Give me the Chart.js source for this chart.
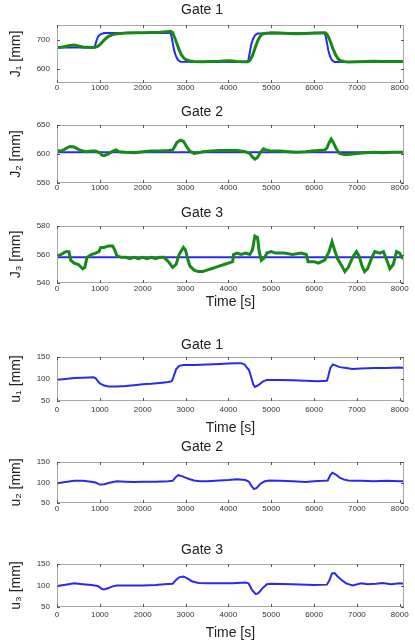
<!DOCTYPE html>
<html>
<head>
<meta charset="utf-8">
<script src="https://cdn.jsdelivr.net/npm/chart.js@4.4.1/dist/chart.umd.min.js"></script>
<style>
  body { margin: 0; background: #fff; }
  #wrap { position: relative; width: 415px; height: 643px; }
  canvas { position: absolute; left: 0; }
</style>
</head>
<body>
<div id="wrap"></div>
<script>
// time axis ticks
var xTicks = [0, 1000, 2000, 3000, 4000, 5000, 6000, 7000, 8000];

// Gate 1 level, reference (blue) and measured (green)
var j1RefT = [0, 880, 900, 930, 960, 1000, 1050, 1100, 2650, 2670, 2700, 2730, 2770, 2820, 2880, 4450, 4470, 4500, 4530, 4570, 4620, 4680, 6250, 6270, 6300, 6330, 6370, 6420, 6480, 8100];
var j1Ref = [672, 672, 685, 700, 710, 716, 720, 722, 722, 712, 690, 665, 645, 630, 623, 622, 632, 655, 680, 700, 714, 721, 722, 712, 690, 665, 643, 628, 622, 622];
var j1T = [0, 100, 200, 300, 400, 500, 600, 700, 800, 880, 950, 1000, 1050, 1100, 1150, 1200, 1300, 1400, 1500, 1600, 1800, 2000, 2200, 2400, 2550, 2650, 2700, 2750, 2800, 2850, 2900, 2950, 3000, 3100, 3200, 3400, 3600, 3800, 4000, 4100, 4200, 4400, 4450, 4500, 4550, 4600, 4650, 4700, 4750, 4800, 4900, 5000, 5200, 5400, 5600, 5800, 6000, 6200, 6260, 6300, 6350, 6400, 6450, 6500, 6550, 6600, 6700, 6800, 7000, 7200, 7400, 7600, 7800, 8000, 8100];
var j1 = [672, 673, 676, 679, 681, 678, 674, 673, 672, 673, 676, 682, 690, 698, 705, 711, 717, 720, 721, 722, 723, 723, 724, 725, 727, 728, 724, 705, 685, 665, 648, 638, 631, 626, 624, 623, 624, 625, 627, 626, 624, 623, 623, 628, 640, 660, 682, 700, 712, 719, 722, 723, 722, 721, 720, 721, 722, 723, 723, 718, 705, 685, 665, 648, 636, 628, 624, 622, 623, 624, 625, 624, 624, 624, 624];

// Gate 2 level
var j2RefT = [0, 8100];
var j2Ref = [603, 603];
var j2T = [0, 100, 200, 300, 400, 500, 600, 700, 800, 900, 1000, 1050, 1100, 1200, 1300, 1380, 1450, 1600, 1800, 2000, 2200, 2400, 2600, 2700, 2750, 2800, 2880, 2950, 3000, 3050, 3100, 3200, 3300, 3400, 3600, 3800, 4000, 4200, 4400, 4500, 4560, 4620, 4680, 4750, 4820, 4880, 5000, 5200, 5400, 5600, 5800, 5950, 6100, 6250, 6300, 6350, 6400, 6450, 6500, 6550, 6600, 6700, 6800, 6900, 7000, 7200, 7400, 7600, 7800, 8000, 8100];
var j2 = [606, 605, 609, 613, 612, 608, 605, 604, 605, 605, 602, 598, 597, 600, 605, 607, 604, 603, 602, 604, 605, 605, 606, 607, 613, 620, 624, 622, 616, 610, 605, 601, 602, 604, 605, 606, 606, 606, 604, 601, 595, 591, 594, 603, 609, 607, 605, 605, 604, 603, 604, 605, 606, 607, 610, 619, 626, 620, 612, 605, 601, 599, 599, 600, 601, 602, 603, 602, 603, 603, 603];

// Gate 3 level
var j3RefT = [0, 8100];
var j3Ref = [558, 558];
var j3T = [0, 100, 150, 200, 280, 320, 400, 500, 600, 650, 700, 800, 900, 980, 1020, 1100, 1200, 1300, 1350, 1400, 1500, 1600, 1700, 1800, 1900, 2000, 2100, 2200, 2300, 2400, 2500, 2600, 2700, 2780, 2850, 2950, 3000, 3050, 3100, 3200, 3300, 3400, 3500, 3600, 3700, 3800, 3900, 4000, 4100, 4120, 4200, 4300, 4400, 4500, 4560, 4620, 4680, 4720, 4770, 4850, 4900, 5000, 5100, 5300, 5500, 5700, 5820, 5860, 6000, 6100, 6250, 6350, 6420, 6480, 6550, 6650, 6720, 6800, 6900, 6990, 7050, 7120, 7180, 7250, 7350, 7420, 7530, 7620, 7700, 7770, 7850, 7925, 8000, 8050, 8100];
var j3 = [559, 560, 561, 562, 562, 556, 554, 553, 550, 551, 558, 560, 561, 562, 565, 565, 566, 566, 563, 559, 558, 558, 557, 558, 557, 558, 557, 558, 557, 558, 558, 555, 551, 553, 560, 565, 563, 557, 552, 549, 548, 548, 549, 550, 551, 552, 553, 554, 555, 560, 561, 560, 561, 560, 563, 573, 572, 562, 556, 558, 561, 562, 561, 561, 560, 561, 560, 555, 555, 554, 556, 562, 569, 563, 557, 552, 548, 551, 558, 562, 559, 552, 548, 550, 558, 562, 561, 562, 556, 550, 553, 562, 561, 558, 557];

// gate openings
var u1T = [0, 200, 400, 600, 850, 900, 950, 1000, 1100, 1200, 1400, 1600, 1800, 2000, 2200, 2400, 2600, 2680, 2720, 2780, 2850, 2950, 3200, 3500, 3800, 4000, 4200, 4300, 4380, 4440, 4480, 4530, 4580, 4620, 4700, 4800, 4900, 5200, 5500, 5800, 6100, 6300, 6330, 6380, 6440, 6500, 6600, 6750, 6900, 7100, 7400, 7700, 8000, 8100];
var u1 = [98, 100, 102, 103, 104, 102, 96, 90, 85, 83, 83, 84, 86, 88, 89, 91, 93, 95, 105, 122, 130, 132, 132, 133, 134, 135, 136, 136, 133, 125, 121, 105, 88, 82, 86, 94, 98, 98, 97, 96, 95, 96, 105, 125, 133, 131, 127, 125, 123, 124, 125, 125, 126, 125];
var u2T = [0, 200, 400, 600, 800, 900, 1000, 1100, 1250, 1400, 1600, 1800, 2000, 2300, 2600, 2700, 2760, 2830, 2900, 3000, 3100, 3200, 3330, 3500, 3800, 4000, 4200, 4400, 4480, 4550, 4600, 4660, 4750, 4850, 4960, 5200, 5500, 5800, 6000, 6200, 6320, 6380, 6430, 6500, 6600, 6700, 6800, 6910, 7100, 7400, 7700, 8000, 8100];
var u2 = [98, 101, 104, 104, 102, 100, 95, 96, 100, 103, 102, 101, 102, 102, 103, 104, 112, 118, 116, 112, 108, 105, 103, 103, 105, 106, 108, 106, 102, 90, 84, 87, 97, 103, 105, 104, 103, 101, 103, 104, 105, 118, 124, 120, 112, 107, 105, 104, 104, 103, 104, 103, 103];
var u3T = [0, 200, 400, 600, 800, 950, 1050, 1100, 1200, 1300, 1400, 1700, 2000, 2300, 2500, 2700, 2780, 2850, 2950, 3050, 3150, 3300, 3500, 3800, 4100, 4400, 4470, 4550, 4640, 4700, 4800, 4900, 5000, 5500, 6000, 6300, 6360, 6420, 6480, 6550, 6650, 6750, 6900, 7100, 7250, 7450, 7600, 7800, 8000, 8100];
var u3 = [99, 102, 105, 103, 101, 99, 92, 91, 94, 98, 100, 100, 100, 101, 103, 104, 113, 119, 121, 116, 110, 106, 105, 105, 105, 107, 105, 90, 80, 82, 94, 103, 104, 103, 101, 102, 112, 128, 129, 121, 112, 105, 100, 105, 103, 104, 106, 103, 105, 104];

var blue = '#2a2aee';
var green = '#168a16';
var font = "'Liberation Sans', Arial, sans-serif";

function pts(t, v) {
  return t.map(function (x, i) { return { x: x, y: v[i] }; });
}

// inner ticks + grey frame, MATLAB style
var boxPlugin = {
  id: 'box',
  afterDatasetsDraw: function (chart) {
    var ctx = chart.ctx, a = chart.chartArea, sx = chart.scales.x, sy = chart.scales.y;
    ctx.save();
    ctx.strokeStyle = '#a8a8a8';
    ctx.lineWidth = 1;
    ctx.strokeRect(a.left + 0.5, a.top + 0.5, a.right - a.left - 1, a.bottom - a.top - 1);
    ctx.strokeStyle = '#555';
    ctx.beginPath();
    sx.ticks.forEach(function (t) {
      var p = Math.round(sx.getPixelForValue(t.value)) + 0.5;
      ctx.moveTo(p, a.bottom); ctx.lineTo(p, a.bottom - 3);
      ctx.moveTo(p, a.top); ctx.lineTo(p, a.top + 3);
    });
    sy.ticks.forEach(function (t) {
      var p = Math.round(sy.getPixelForValue(t.value)) + 0.5;
      ctx.moveTo(a.left, p); ctx.lineTo(a.left + 3, p);
      ctx.moveTo(a.right, p); ctx.lineTo(a.right - 3, p);
    });
    ctx.stroke();
    ctx.restore();
  }
};

var panels = [
  { top: 2, plotTop: 25, plotBottom: 83, axisH: 15, tickPad: 0, title: 'Gate 1', yTitle: 'J\u2081 [mm]', yMin: 550, yMax: 750, yTicks: [600, 700],
    series: [[j1T, j1, green, 3], [j1RefT, j1Ref, blue, 2]] },
  { top: 104, plotTop: 125, plotBottom: 183, axisH: 15, tickPad: 0, title: 'Gate 2', yTitle: 'J\u2082 [mm]', yMin: 550, yMax: 650, yTicks: [550, 600, 650],
    series: [[j2T, j2, green, 3], [j2RefT, j2Ref, blue, 2]] },
  { top: 205, plotTop: 226, plotBottom: 283, axisH: 27, tickPad: 1, title: 'Gate 3', yTitle: 'J\u2083 [mm]', yMin: 540, yMax: 580, yTicks: [540, 560, 580], xTitle: 'Time [s]',
    series: [[j3T, j3, green, 3], [j3RefT, j3Ref, blue, 2]] },
  { top: 337, plotTop: 357, plotBottom: 401, axisH: 35, tickPad: 4, title: 'Gate 1', yTitle: 'u\u2081 [mm]', yMin: 50, yMax: 150, yTicks: [50, 100, 150], xTitle: 'Time [s]',
    series: [[u1T, u1, blue, 2]] },
  { top: 439, plotTop: 462, plotBottom: 503, axisH: 15, tickPad: 1, title: 'Gate 2', yTitle: 'u\u2082 [mm]', yMin: 50, yMax: 150, yTicks: [50, 100, 150],
    series: [[u2T, u2, blue, 2]] },
  { top: 542, plotTop: 564, plotBottom: 607, axisH: 34, tickPad: 3, title: 'Gate 3', yTitle: 'u\u2083 [mm]', yMin: 50, yMax: 150, yTicks: [50, 100, 150], xTitle: 'Time [s]',
    series: [[u3T, u3, blue, 2]] }
];

var wrap = document.getElementById('wrap');

panels.forEach(function (p) {
  var cv = document.createElement('canvas');
  var h = p.plotBottom - p.top + p.axisH;
  cv.width = 415;
  cv.height = h;
  cv.style.top = p.top + 'px';
  cv.style.width = '415px';
  cv.style.height = h + 'px';
  wrap.appendChild(cv);

  var datasets = p.series.map(function (s, i) {
    return {
      data: pts(s[0], s[1]),
      borderColor: s[2],
      borderWidth: s[3],
      pointRadius: 0,
      tension: 0,
      fill: false,
      order: i
    };
  });

  new Chart(cv.getContext('2d'), {
    type: 'line',
    data: { datasets: datasets },
    options: {
      responsive: false,
      animation: false,
      devicePixelRatio: 1,
      layout: { padding: { left: 0, right: 11, top: 0, bottom: 0 } },
      plugins: {
        legend: { display: false },
        tooltip: { enabled: false },
        title: {
          display: true,
          text: p.title,
          color: '#222',
          font: { family: font, size: 14, weight: 'normal', lineHeight: '16px' },
          padding: { top: 0, bottom: p.plotTop - p.top - 16 }
        }
      },
      scales: {
        x: {
          type: 'linear',
          min: 0,
          max: 8100,
          grid: { display: false, drawTicks: false },
          border: { display: false },
          afterBuildTicks: function (s) { s.ticks = xTicks.map(function (v) { return { value: v }; }); },
          afterFit: function (s) { s.height = p.axisH; },
          ticks: {
            maxRotation: 0,
            autoSkip: false,
            padding: p.tickPad,
            color: '#333',
            font: { family: font, size: 8 },
            callback: function (v) { return String(v); }
          },
          title: {
            display: !!p.xTitle,
            text: p.xTitle || '',
            color: '#222',
            font: { family: font, size: 14, lineHeight: '16px' },
            padding: { top: 0, bottom: 0 }
          }
        },
        y: {
          min: p.yMin,
          max: p.yMax,
          grid: { display: false, drawTicks: false },
          border: { display: false },
          afterBuildTicks: function (s) { s.ticks = p.yTicks.map(function (v) { return { value: v }; }); },
          afterFit: function (s) { s.width = 57; },
          ticks: {
            padding: 7,
            color: '#333',
            font: { family: font, size: 8 },
            callback: function (v) { return String(v); }
          },
          title: {
            display: true,
            text: p.yTitle,
            color: '#222',
            font: { family: font, size: 14, lineHeight: '16px' },
            padding: { top: 8, bottom: 0 }
          }
        }
      }
    },
    plugins: [boxPlugin]
  });
});
</script>
</body>
</html>
